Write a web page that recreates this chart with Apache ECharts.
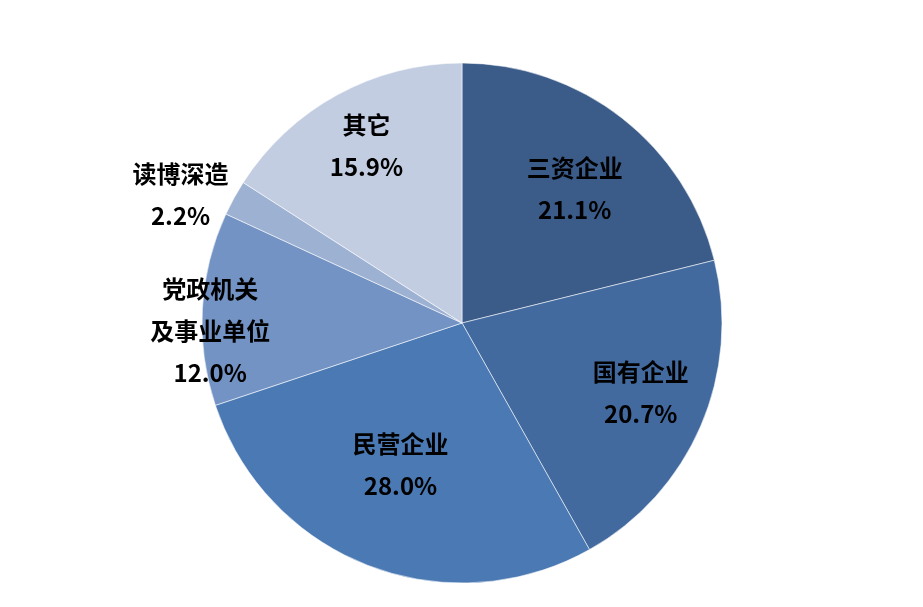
<!DOCTYPE html>
<html><head><meta charset="utf-8">
<script src="https://cdn.jsdelivr.net/npm/echarts@6/dist/echarts.min.js"></script>
<style>html,body{margin:0;padding:0;background:#fff}#c{width:923px;height:607px}</style>
</head><body><div id="c"></div>
<script>
var categories = ['三资企业', '国有企业', '民营企业', '党政机关\n及事业单位', '读博深造', '其它'];
var values = [21.1, 20.7, 28.0, 12.0, 2.2, 15.9];
var colors = ['#3B5B89', '#426A9F', '#4A79B3', '#7393C4', '#9DB1D3', '#C3CDE2'];
// label placement: distance as fraction of radius, and angular nudge (degrees)
var labelRadiusRatio = [0.674, 0.738, 0.594, 0.969, 1.19, 0.774];
var labelAngleNudge = [2, -2, 2.4, -4.9, -4.2, 0.3];

var CX = 462, CY = 323, R = 260;
var total = values.reduce(function (a, b) { return a + b; }, 0);
var midAngles = [];
(function () {
  var acc = 0;
  for (var i = 0; i < values.length; i++) {
    midAngles.push((acc + values[i] / 2) / total * 2 * Math.PI);
    acc += values[i];
  }
})();

var chart = echarts.init(document.getElementById('c'));
chart.setOption({
  animation: false,
  backgroundColor: '#fff',
  series: [{
    type: 'pie',
    center: [CX, CY],
    radius: [0, R],
    startAngle: 90,
    clockwise: true,
    data: categories.map(function (c, i) {
      return { name: c, value: values[i], itemStyle: { color: colors[i] } };
    }),
    itemStyle: { borderColor: 'rgba(255,255,255,0.55)', borderWidth: 1 },
    label: {
      show: true,
      position: 'inside',
      color: '#000',
      fontFamily: '"Noto Sans CJK SC", "Noto Sans", sans-serif',
      fontWeight: 'bold',
      fontSize: 24,
      lineHeight: 42,
      align: 'center',
      formatter: function (p) { return p.name + '\n' + p.value.toFixed(1) + '%'; }
    },
    labelLine: { show: false },
    labelLayout: function (p) {
      var i = p.dataIndex;
      var a = midAngles[i] + labelAngleNudge[i] * Math.PI / 180;
      var d = labelRadiusRatio[i] * R;
      return {
        x: CX + d * Math.sin(a),
        y: CY - d * Math.cos(a),
        align: 'center',
        verticalAlign: 'middle'
      };
    }
  }]
});
</script>
</body></html>
